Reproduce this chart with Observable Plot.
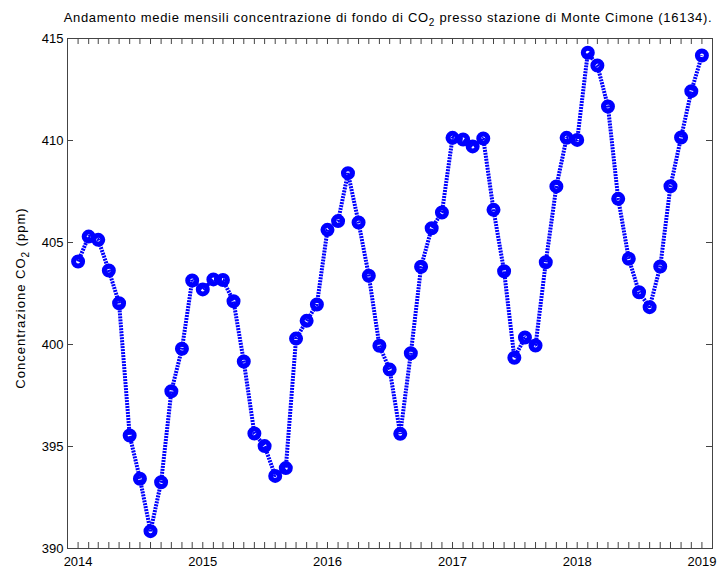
<!DOCTYPE html>
<html>
<head>
<meta charset="utf-8">
<script src="https://cdn.jsdelivr.net/npm/d3@7"></script>
<script src="https://cdn.jsdelivr.net/npm/@observablehq/plot@0.6"></script>
<style>
  body { margin: 0; background: #fff; }
  svg { display: block; }
</style>
</head>
<body>
<div id="chart"></div>
<script>
// Monthly mean background CO2 concentration, Monte Cimone station (16134), Jan 2014 – Jan 2019
const firstMonth = "2014-01-01";
const co2 = [
  404.07, 405.29, 405.13, 403.63, 402.02, 395.54, 393.42, 390.85, 393.25, 397.71, 399.79, 403.14, // 2014
  402.70, 403.19, 403.16, 402.12, 399.17, 395.64, 395.02, 393.56, 393.94, 400.29, 401.16, 401.96, // 2015
  405.62, 406.05, 408.40, 405.98, 403.37, 399.94, 398.77, 395.62, 399.57, 403.81, 405.70, 406.47, // 2016
  410.13, 410.05, 409.71, 410.10, 406.60, 403.59, 399.35, 400.34, 399.95, 404.03, 407.75, 410.13, // 2017
  410.03, 414.30, 413.68, 411.67, 407.14, 404.20, 402.56, 401.83, 403.82, 407.76, 410.15, 412.42, // 2018
  414.17                                                                                          // 2019
];
const yTicks = [390, 395, 400, 405, 410, 415];
const yearLabels = ["2014", "2015", "2016", "2017", "2018", "2019"];

const start = new Date(firstMonth);
const months = co2.map((_, i) => d3.utcMonth.offset(start, i));
const data = months.map((date, i) => ({date, value: co2[i]}));
const years = yearLabels.map(y => new Date(`${y}-01-01`));
const xDomain = [d3.utcMonth.offset(start, -1), d3.utcMonth.offset(months[months.length - 1], 1)];
const monthTicks = d3.utcMonth.range(xDomain[0], d3.utcMonth.offset(xDomain[1], 1));

const W = 719, H = 569;
const M = {top: 38, right: 7, bottom: 21, left: 67};
const innerW = W - M.left - M.right;
const innerH = H - M.top - M.bottom;
const tickLen = 6;

const font = "'Liberation Sans', Arial, sans-serif";
const blue = "#0000ff";
const axisGray = "#444";

const chart = Plot.plot({
  width: W,
  height: H,
  marginTop: M.top,
  marginBottom: M.bottom,
  marginLeft: M.left,
  marginRight: M.right,
  style: {fontFamily: font, fontSize: "13px", color: "#000", background: "#fff"},
  x: {type: "utc", domain: xDomain},
  y: {domain: [390, 415]},
  marks: [
    // inward monthly ticks along bottom and top edges
    Plot.tickX(monthTicks, {x: d => d, stroke: axisGray, insetTop: innerH - tickLen}),
    Plot.tickX(monthTicks, {x: d => d, stroke: axisGray, insetBottom: innerH - tickLen}),
    // inward value ticks along left and right edges
    Plot.tickY(yTicks, {y: d => d, stroke: axisGray, insetRight: innerW - tickLen}),
    Plot.tickY(yTicks, {y: d => d, stroke: axisGray, insetLeft: innerW - tickLen}),
    Plot.frame({stroke: axisGray, strokeWidth: 1}),
    // year labels and value labels
    Plot.axisX({anchor: "bottom", ticks: years, tickSize: 0, tickPadding: 8, tickFormat: d3.utcFormat("%Y"), label: null}),
    Plot.axisY({anchor: "left", ticks: yTicks, tickSize: 0, tickPadding: 4, label: null}),
    Plot.line(data, {x: "date", y: "value", stroke: blue, strokeWidth: 4, strokeDasharray: "2,1", strokeLinecap: "butt", strokeLinejoin: "miter"}),
    Plot.dot(data, {x: "date", y: "value", r: 4.5, stroke: blue, strokeWidth: 5, fill: "none"})
  ]
});

// Title and y-axis label with subscripted "2"
const svg = d3.select(chart);
const title = svg.append("text")
  .attr("x", 388).attr("y", 22)
  .attr("text-anchor", "middle")
  .attr("letter-spacing", 0.7)
  .attr("font-family", font).attr("font-size", 13).attr("fill", "#000");
title.append("tspan").text("Andamento medie mensili concentrazione di fondo di CO");
title.append("tspan").attr("dy", 4).attr("font-size", 10).text("2");
title.append("tspan").attr("dy", -4).text(" presso stazione di Monte Cimone (16134).");

const ylab = svg.append("text")
  .attr("transform", "translate(25,298) rotate(-90)")
  .attr("text-anchor", "middle")
  .attr("letter-spacing", 1)
  .attr("font-family", font).attr("font-size", 13).attr("fill", "#000");
ylab.append("tspan").text("Concentrazione CO");
ylab.append("tspan").attr("dy", 4).attr("font-size", 10).text("2");
ylab.append("tspan").attr("dy", -4).text(" (ppm)");

document.getElementById("chart").append(chart);
</script>
</body>
</html>
